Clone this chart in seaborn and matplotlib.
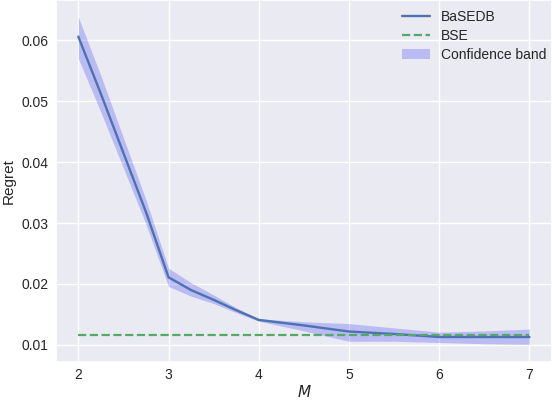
import numpy as np
import pandas as pd
import seaborn as sns
import matplotlib
matplotlib.use('Agg')
from matplotlib import pyplot as plt

sns.set_theme(style='darkgrid')
plt.rcParams['font.family'] = ['Liberation Sans', 'DejaVu Sans']

# Values
M = [2.0, 2.25, 2.5, 2.75, 3.0, 3.25, 3.5, 3.75, 4.0, 4.5, 5.0, 5.5, 6.0, 6.5, 7.0]
regret = [0.0606, 0.0512, 0.0415, 0.0318, 0.0211, 0.0190, 0.0174, 0.0157, 0.0141,
          0.0132, 0.0122, 0.0118, 0.0113, 0.0113, 0.0113]
lower = [0.0570, 0.0482, 0.0390, 0.0298, 0.0196, 0.0180, 0.0168, 0.0153, 0.0139,
         0.0123, 0.0106, 0.0106, 0.0104, 0.0102, 0.0101]
upper = [0.0638, 0.0542, 0.0440, 0.0338, 0.0226, 0.0202, 0.0182, 0.0161, 0.0143,
         0.0138, 0.0135, 0.0128, 0.0121, 0.0123, 0.0126]
bse = 0.0116

df = pd.DataFrame({'M': M, 'Regret': regret})

fig, ax = plt.subplots(figsize=(5.52, 4.0), dpi=100)

sns.lineplot(data=df, x='M', y='Regret', ax=ax, color='#4c72b0', linewidth=1.7, label='BaSEDB')
ax.plot([M[0], M[-1]], [bse, bse], color='#55a868', linestyle='--', linewidth=1.6, label='BSE')
ax.fill_between(M, lower, upper, color='blue', alpha=0.2, linewidth=0, label='Confidence band')

ax.set_xlabel('$M$', fontsize=11, labelpad=2)
ax.set_ylabel('Regret', fontsize=11, labelpad=4)
ax.set_xticks([2, 3, 4, 5, 6, 7])
ax.set_yticks([0.01, 0.02, 0.03, 0.04, 0.05, 0.06])
ax.set_ylim(0.0072, 0.0666)
ax.tick_params(axis='x', labelsize=10, size=0, pad=4)
ax.tick_params(axis='y', labelsize=10, size=0, pad=5)

ax.legend(loc='upper left', bbox_to_anchor=(0.686, 0.987), borderaxespad=0,
          frameon=False, fontsize=10, labelspacing=0.35, handlelength=2.0)

fig.subplots_adjust(left=0.101, right=1.0, top=1.0, bottom=0.095)
fig.savefig('out.png', dpi=100)
